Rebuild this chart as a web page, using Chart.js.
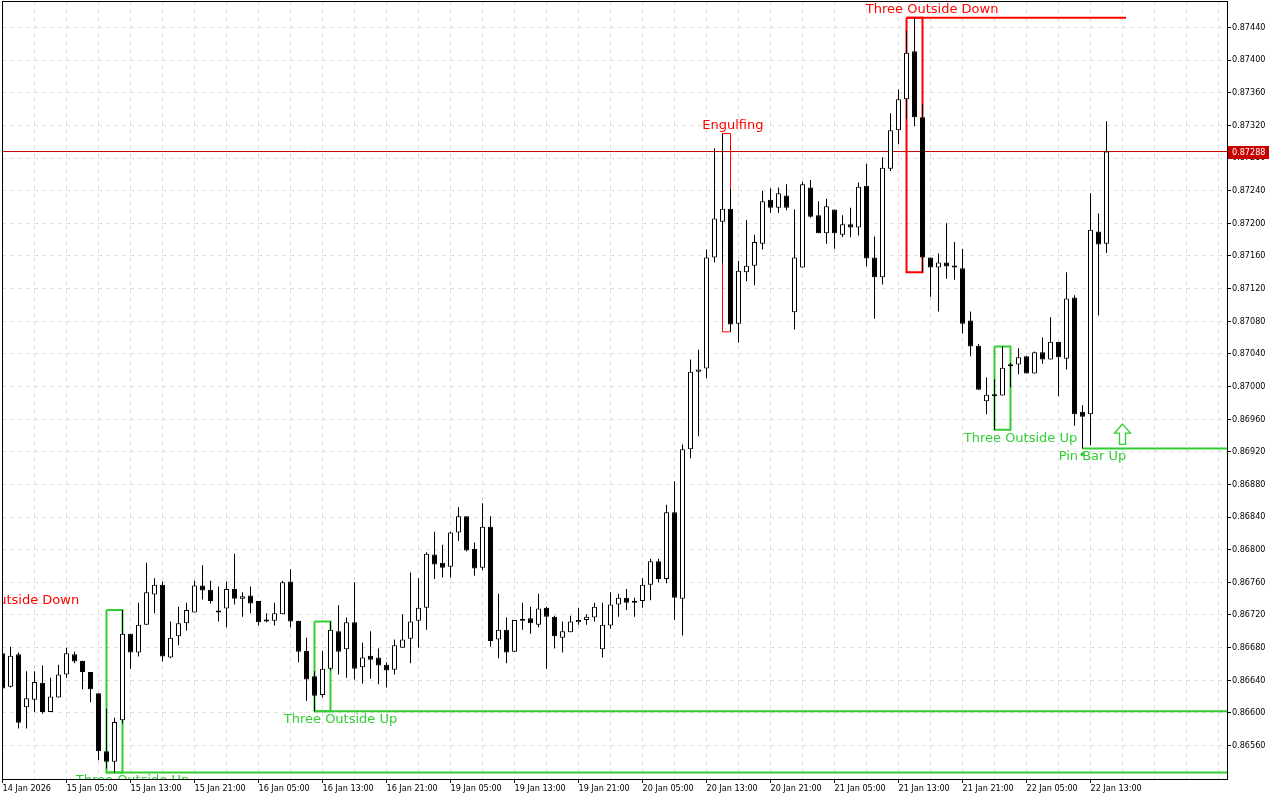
<!DOCTYPE html>
<html>
<head>
<meta charset="utf-8">
<script src="https://cdn.jsdelivr.net/npm/chart.js@4.4.1/dist/chart.umd.min.js"></script>
<style>
html,body{margin:0;padding:0;background:#ffffff;}
#wrap{width:1280px;height:800px;}
canvas{display:block;}
</style>
</head>
<body>
<div id="wrap"><canvas id="c" width="1280" height="800"></canvas></div>
<script>
// ---------------- DATA (hourly bars, index 0 = 14 Jan 21:00) ----------------
const timeLabels = ['14 Jan 2026','15 Jan 05:00','15 Jan 13:00','15 Jan 21:00','16 Jan 05:00','16 Jan 13:00',
  '16 Jan 21:00','19 Jan 05:00','19 Jan 13:00','19 Jan 21:00','20 Jan 05:00','20 Jan 13:00','20 Jan 21:00',
  '21 Jan 05:00','21 Jan 13:00','21 Jan 21:00','22 Jan 05:00','22 Jan 13:00'];

const opens = [
0.86673,0.86632,0.86672,0.86607,0.86616,0.86637,0.86601,0.86619,0.86647,0.86672,
0.86664,0.86650,0.86624,0.86553,0.86540,0.86591,0.86697,0.86674,0.86708,0.86745,
0.86757,0.86668,0.86694,0.86710,0.86723,0.86756,0.86751,0.86724,0.86728,0.86752,
0.86740,0.86744,0.86737,0.86712,0.86713,0.86721,0.86761,0.86713,0.86676,0.86645,
0.86622,0.86654,0.86700,0.86678,0.86711,0.86656,0.86670,0.86668,0.86659,0.86653,
0.86680,0.86691,0.86713,0.86729,0.86794,0.86784,0.86779,0.86821,0.86841,0.86801,
0.86778,0.86828,0.86690,0.86702,0.86675,0.86714,0.86716,0.86708,0.86729,0.86718,
0.86692,0.86699,0.86711,0.86714,0.86717,0.86678,0.86707,0.86733,0.86741,0.86737,
0.86737,0.86757,0.86786,0.86764,0.86846,0.86740,0.86923,0.87018,0.87022,0.87158,
0.87202,0.87218,0.87077,0.87140,0.87148,0.87175,0.87229,0.87219,0.87234,0.87091,
0.87146,0.87244,0.87210,0.87188,0.87217,0.87186,0.87199,0.87195,0.87246,0.87158,
0.87134,0.87267,0.87314,0.87352,0.87411,0.87330,0.87158,0.87146,0.87152,0.87148,
0.87145,0.87081,0.87050,0.86982,0.86990,0.86989,0.87025,0.87027,0.87037,0.87016,
0.87042,0.87033,0.87055,0.87034,0.87109,0.86969,0.86966,0.87190,0.87175];

const highs = [
0.86679,0.86681,0.86674,0.86651,0.86651,0.86658,0.86643,0.86659,0.86680,0.86675,
0.86664,0.86650,0.86624,0.86605,0.86594,0.86726,0.86697,0.86735,0.86784,0.86765,
0.86761,0.86712,0.86730,0.86735,0.86762,0.86781,0.86762,0.86755,0.86761,0.86795,
0.86748,0.86755,0.86737,0.86722,0.86735,0.86762,0.86776,0.86713,0.86692,0.86651,
0.86676,0.86712,0.86732,0.86717,0.86760,0.86686,0.86700,0.86679,0.86662,0.86690,
0.86721,0.86772,0.86765,0.86797,0.86822,0.86806,0.86822,0.86852,0.86841,0.86809,
0.86857,0.86841,0.86746,0.86717,0.86714,0.86735,0.86730,0.86746,0.86730,0.86719,
0.86712,0.86719,0.86729,0.86721,0.86735,0.86735,0.86748,0.86746,0.86752,0.86741,
0.86765,0.86789,0.86789,0.86855,0.86884,0.86929,0.87033,0.87045,0.87168,0.87292,
0.87310,0.87242,0.87154,0.87204,0.87186,0.87240,0.87243,0.87244,0.87248,0.87217,
0.87251,0.87253,0.87227,0.87230,0.87217,0.87210,0.87219,0.87250,0.87273,0.87184,
0.87281,0.87335,0.87364,0.87436,0.87452,0.87346,0.87158,0.87163,0.87200,0.87177,
0.87169,0.87092,0.87052,0.87011,0.87009,0.87049,0.87029,0.87047,0.87037,0.87043,
0.87060,0.87085,0.87055,0.87140,0.87112,0.86977,0.87237,0.87212,0.87325];

const lows = [
0.86627,0.86631,0.86581,0.86581,0.86601,0.86599,0.86601,0.86619,0.86643,0.86661,
0.86629,0.86613,0.86542,0.86532,0.86527,0.86587,0.86654,0.86669,0.86708,0.86722,
0.86663,0.86667,0.86683,0.86701,0.86723,0.86739,0.86734,0.86712,0.86705,0.86733,
0.86718,0.86722,0.86707,0.86711,0.86707,0.86721,0.86705,0.86662,0.86615,0.86602,
0.86619,0.86652,0.86647,0.86643,0.86641,0.86636,0.86642,0.86635,0.86631,0.86647,
0.86680,0.86661,0.86680,0.86702,0.86764,0.86766,0.86766,0.86811,0.86798,0.86768,
0.86775,0.86681,0.86667,0.86661,0.86675,0.86702,0.86697,0.86705,0.86654,0.86679,
0.86674,0.86699,0.86708,0.86708,0.86712,0.86668,0.86703,0.86718,0.86726,0.86718,
0.86729,0.86738,0.86760,0.86759,0.86714,0.86695,0.86912,0.86939,0.87010,0.87152,
0.87151,0.87067,0.87054,0.87129,0.87124,0.87168,0.87213,0.87213,0.87216,0.87070,
0.87146,0.87207,0.87188,0.87175,0.87169,0.87183,0.87183,0.87185,0.87147,0.87083,
0.87125,0.87264,0.87297,0.87328,0.87319,0.87140,0.87110,0.87092,0.87132,0.87131,
0.87065,0.87037,0.86996,0.86966,0.86947,0.86989,0.86999,0.87015,0.87016,0.87016,
0.87028,0.87033,0.86988,0.87021,0.86952,0.86924,0.86928,0.87087,0.87164];

const closes = [
0.86630,0.86670,0.86588,0.86618,0.86638,0.86601,0.86620,0.86647,0.86673,0.86663,
0.86650,0.86629,0.86553,0.86540,0.86589,0.86697,0.86674,0.86708,0.86748,0.86757,
0.86669,0.86692,0.86710,0.86726,0.86756,0.86750,0.86737,0.86723,0.86752,0.86740,
0.86743,0.86734,0.86711,0.86714,0.86722,0.86760,0.86712,0.86675,0.86641,0.86621,
0.86654,0.86702,0.86675,0.86711,0.86654,0.86668,0.86665,0.86658,0.86652,0.86683,
0.86690,0.86712,0.86729,0.86795,0.86782,0.86778,0.86821,0.86841,0.86799,0.86777,
0.86828,0.86688,0.86702,0.86674,0.86714,0.86713,0.86710,0.86728,0.86718,0.86694,
0.86700,0.86712,0.86714,0.86718,0.86730,0.86708,0.86733,0.86741,0.86735,0.86735,
0.86757,0.86786,0.86764,0.86846,0.86741,0.86923,0.87018,0.87021,0.87158,0.87206,
0.87218,0.87076,0.87142,0.87148,0.87177,0.87227,0.87219,0.87237,0.87219,0.87158,
0.87248,0.87208,0.87188,0.87221,0.87188,0.87199,0.87195,0.87245,0.87157,0.87134,
0.87268,0.87314,0.87352,0.87409,0.87330,0.87158,0.87146,0.87152,0.87147,0.87146,
0.87077,0.87049,0.86996,0.86990,0.86988,0.87023,0.87027,0.87036,0.87016,0.87042,
0.87033,0.87055,0.87036,0.87108,0.86966,0.86963,0.87192,0.87174,0.87288];

const priceTicks = [0.86560,0.86600,0.86640,0.86680,0.86720,0.86760,0.86800,0.86840,0.86880,0.86920,
  0.86960,0.87000,0.87040,0.87080,0.87120,0.87160,0.87200,0.87240,0.87280,0.87320,0.87360,0.87400,0.87440];

const currentPrice = 0.87288;

// candlestick patterns found on the chart (bar indexes)
const patterns = [
  { name: 'Three Outside Up',   from: 13,  to: 15,  bullish: true,  lineTo: 'edge', labelAt: 16.25 },
  { name: 'Three Outside Up',   from: 39,  to: 41,  bullish: true,  lineTo: 'edge', labelAt: 42.25 },
  { name: 'Engulfing',          from: 90,  to: 91,  bullish: false, lineTo: null,   labelAt: 91.3 },
  { name: 'Three Outside Down', from: 113, to: 115, bullish: false, lineTo: 140.44, labelAt: 116.2 },
  { name: 'Three Outside Up',   from: 124, to: 126, bullish: true,  lineTo: null,   labelAt: 127.25 },
  { name: 'Pin Bar Up',         from: 135, to: 135, bullish: true,  lineTo: 'edge', labelAt: 136.25 }
];
// label of a pattern that started before the visible window
const earlierLabels = [{ name: 'Three Outside Down', at: 1.3, price: 0.86738, bullish: false }];
// signal arrow (bar index, tip price, base price) and pin-bar marker
const signalArrow = { at: 140, tip: 0.86954, base: 0.86929 };
const pinMarker = { at: 135, price: 0.86917 };

// ---------------- BUILD ----------------
const X_MIN = -0.0625, X_MAX = 153.0625;
const GREEN = '#32cd32', RED = '#ff0000';
const AXIS_FONT = { family: '"DejaVu Sans Condensed", "DejaVu Sans", sans-serif', size: 9 };

const isUp = closes.map((c, i) => c >= opens[i]);
const bodyData = opens.map((o, i) => ({ x: i, y: [o, closes[i]] }));
const wickData = lows.map((l, i) => ({ x: i, y: [l, highs[i]] }));

function patHigh(p) { return Math.max(...highs.slice(p.from, p.to + 1)); }
function patLow(p) { return Math.min(...lows.slice(p.from, p.to + 1)); }

const lineSets = [];
patterns.forEach(p => {
  const col = p.bullish ? GREEN : RED;
  const w = p.name === 'Engulfing' ? 1 : 2;
  const top = patHigh(p), bot = patLow(p);
  if (p.to > p.from) {
    lineSets.push({
      type: 'line', data: [{x:p.from,y:top},{x:p.to,y:top},{x:p.to,y:bot},{x:p.from,y:bot},{x:p.from,y:top}],
      borderColor: col, borderWidth: w, pointRadius: 0, fill: false, tension: 0, order: 3
    });
  }
  if (p.lineTo !== null) {
    const end = p.lineTo === 'edge' ? X_MAX : p.lineTo;
    const lvl = p.bullish ? bot : top;
    lineSets.push({
      type: 'line', data: [{x:p.from,y:lvl},{x:end,y:lvl}],
      borderColor: col, borderWidth: 2, pointRadius: 0, fill: false, tension: 0, order: 3
    });
  }
});
lineSets.push({
  type: 'line', data: [{x:X_MIN,y:currentPrice},{x:X_MAX,y:currentPrice}],
  borderColor: '#c80000', borderWidth: 1, pointRadius: 0, fill: false, order: 4
});

const overlay = {
  id: 'overlay',
  afterDatasetsDraw(chart) {
    const { ctx, chartArea: a, scales: { x, y } } = chart;
    ctx.save();
    ctx.beginPath();
    ctx.rect(a.left, a.top, a.right - a.left, a.bottom - a.top);
    ctx.clip();
    ctx.font = '13px "DejaVu Sans", sans-serif';
    ctx.textAlign = 'center';
    ctx.textBaseline = 'middle';
    patterns.forEach(p => {
      const lvl = p.bullish ? patLow(p) : patHigh(p);
      const py = y.getPixelForValue(lvl) + (p.bullish ? 8.5 : -8);
      ctx.fillStyle = p.bullish ? GREEN : RED;
      ctx.fillText(p.name, x.getPixelForValue(p.labelAt), py);
    });
    earlierLabels.forEach(l => {
      ctx.fillStyle = l.bullish ? GREEN : RED;
      ctx.fillText(l.name, x.getPixelForValue(l.at), y.getPixelForValue(l.price));
    });
    // arrow
    const cx = x.getPixelForValue(signalArrow.at);
    const ty = y.getPixelForValue(signalArrow.tip), by = y.getPixelForValue(signalArrow.base);
    ctx.beginPath();
    ctx.moveTo(cx, ty);
    ctx.lineTo(cx + 8, ty + 9);
    ctx.lineTo(cx + 3, ty + 9);
    ctx.lineTo(cx + 3, by);
    ctx.lineTo(cx - 3, by);
    ctx.lineTo(cx - 3, ty + 9);
    ctx.lineTo(cx - 8, ty + 9);
    ctx.closePath();
    ctx.fillStyle = '#ffffff';
    ctx.fill();
    ctx.strokeStyle = GREEN;
    ctx.lineWidth = 1.3;
    ctx.stroke();
    // pin bar marker
    ctx.beginPath();
    ctx.arc(x.getPixelForValue(pinMarker.at), y.getPixelForValue(pinMarker.price), 2, 0, Math.PI * 2);
    ctx.fillStyle = GREEN;
    ctx.fill();
    ctx.restore();
  },
  afterDraw(chart) {
    const { ctx, chartArea: a, scales: { y } } = chart;
    ctx.save();
    ctx.strokeStyle = '#000';
    ctx.lineWidth = 1;
    ctx.strokeRect(a.left + 0.5, a.top + 0.5, a.right - a.left, a.bottom - a.top);
    // current price tag
    const py = y.getPixelForValue(currentPrice);
    ctx.fillStyle = '#c80000';
    ctx.fillRect(a.right + 1, Math.round(py) - 6, 41, 13);
    ctx.fillStyle = '#ffffff';
    ctx.font = AXIS_FONT.size + 'px ' + AXIS_FONT.family;
    ctx.textAlign = 'left';
    ctx.textBaseline = 'middle';
    ctx.fillText(currentPrice.toFixed(5), a.right + 5, Math.round(py) + 0.5);
    ctx.restore();
  }
};

new Chart(document.getElementById('c'), {
  type: 'bar',
  data: {
    datasets: [
      { type: 'bar', data: bodyData, backgroundColor: isUp.map(u => u ? '#ffffff' : '#000000'),
        borderColor: '#000000', borderWidth: 1, borderSkipped: false, grouped: false,
        categoryPercentage: 1, barPercentage: 1, barThickness: 5, maxBarThickness: 5,
        minBarLength: 2, inflateAmount: 0, order: 0 },
      { type: 'bar', data: wickData, backgroundColor: '#000000', borderWidth: 0, grouped: false,
        categoryPercentage: 1, barPercentage: 1, barThickness: 1, maxBarThickness: 1,
        inflateAmount: 0, order: 1 },
      ...lineSets
    ]
  },
  options: {
    responsive: false,
    animation: false,
    devicePixelRatio: 1,
    events: [],
    layout: { padding: { left: 2, top: 1, right: 0, bottom: 0 } },
    plugins: { legend: { display: false }, tooltip: { enabled: false } },
    scales: {
      x: {
        type: 'linear', position: 'bottom', min: X_MIN, max: X_MAX, offset: false,
        afterBuildTicks: s => { const t = []; for (let v = 0; v <= 152; v += 4) t.push({ value: v }); s.ticks = t; },
        afterFit: s => { s.height = 21; s.paddingLeft = 0; s.paddingRight = 0; },
        ticks: {
          autoSkip: false, maxRotation: 0, minRotation: 0, align: 'start', padding: 0,
          color: '#000', font: AXIS_FONT,
          callback: v => (v % 8 === 0 && timeLabels[v / 8]) ? timeLabels[v / 8] : ''
        },
        grid: {
          color: '#dddddd', offset: false, tickLength: 4, tickBorderDash: [],
          tickColor: c => (c.tick && c.tick.value % 8 === 0 && timeLabels[c.tick.value / 8]) ? '#000' : 'rgba(0,0,0,0)'
        },
        border: { display: true, color: '#000', width: 1, dash: [4, 4] }
      },
      y: {
        type: 'linear', position: 'right', min: 0.86519, max: 0.874725, beginAtZero: false,
        afterBuildTicks: s => { s.ticks = priceTicks.map(v => ({ value: v })); },
        afterFit: s => { s.width = 53; s.paddingTop = 0; s.paddingBottom = 0; },
        ticks: { color: '#000', font: AXIS_FONT, padding: 1, callback: v => Number(v).toFixed(5) },
        grid: { color: '#dddddd', tickLength: 4, tickColor: '#000', tickBorderDash: [] },
        border: { display: true, color: '#000', width: 1, dash: [4, 4] }
      }
    }
  },
  plugins: [overlay]
});
</script>
</body>
</html>
